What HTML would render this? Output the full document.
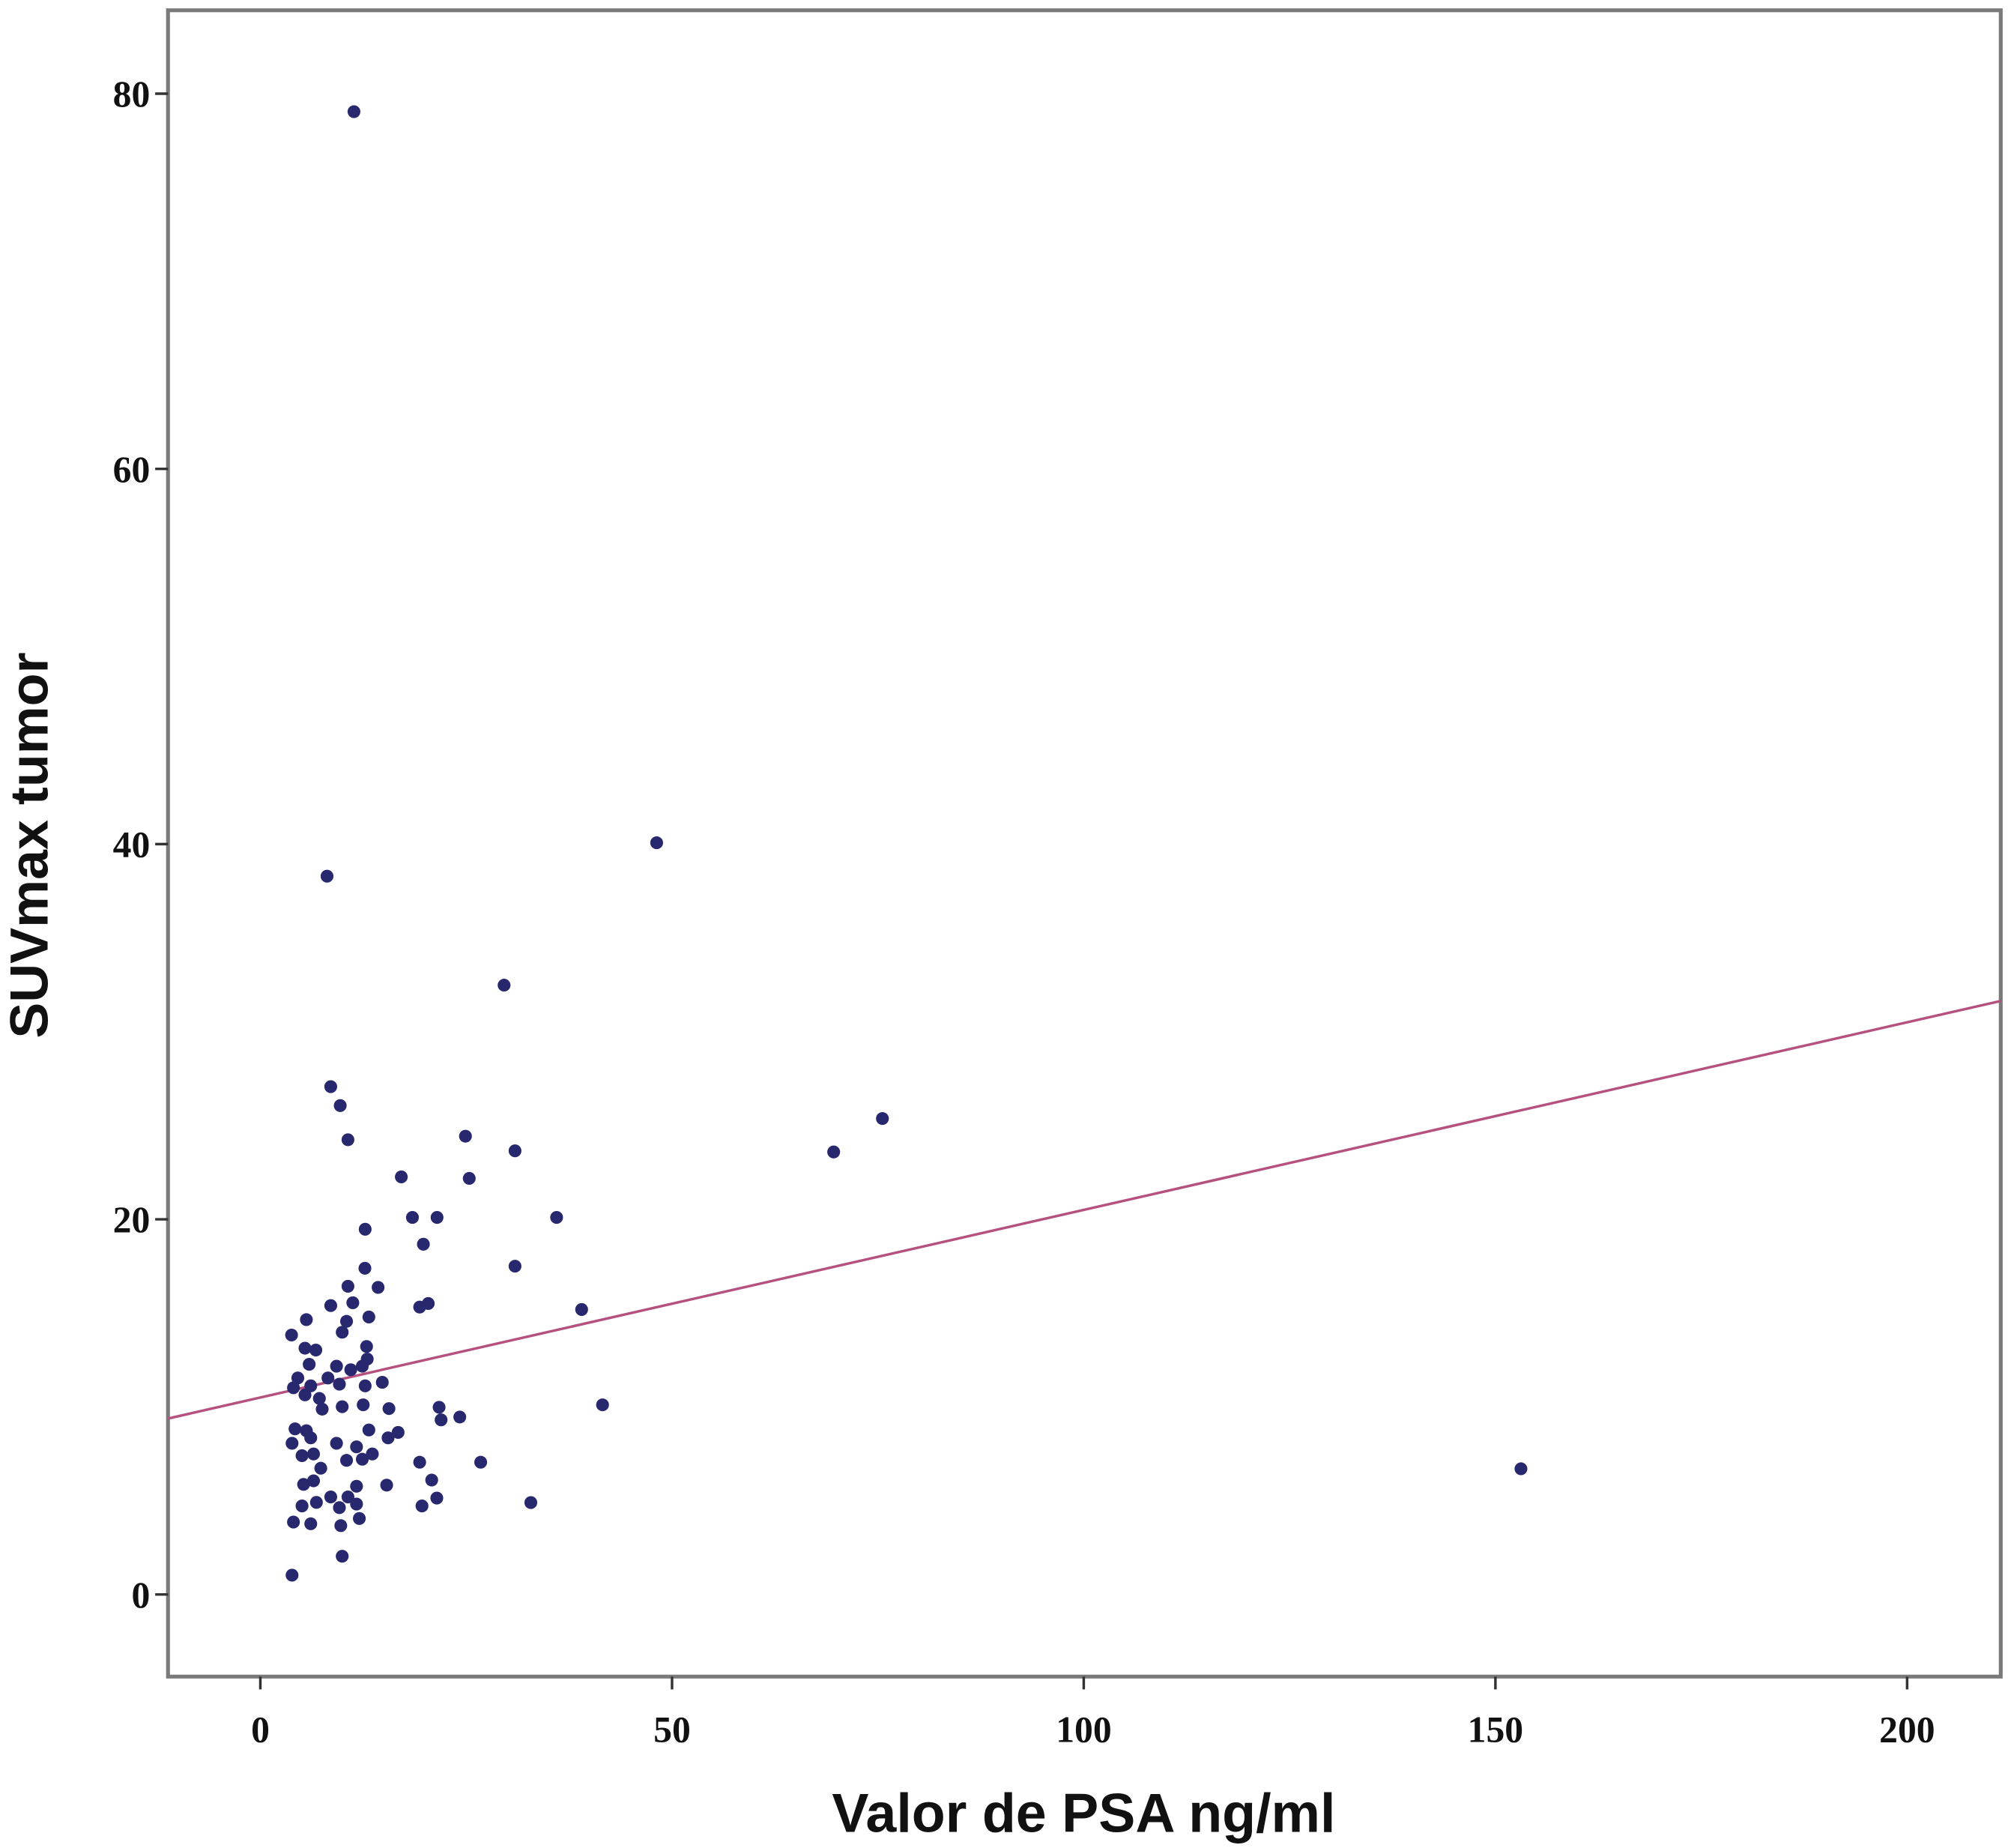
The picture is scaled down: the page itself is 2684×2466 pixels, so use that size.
<!DOCTYPE html>
<html><head><meta charset="utf-8"><style>html,body{margin:0;padding:0;background:#fff}svg{display:block}</style></head>
<body>
<svg id="chart" width="2684" height="2466" viewBox="0 0 1568 1440.6" xmlns="http://www.w3.org/2000/svg">
<rect x="0" y="0" width="1568" height="1440.6" fill="#fff"/>
<g id="marks"></g>
</svg>
<script>
const xTicks = [0, 50, 100, 150, 200];
const yTicks = [0, 20, 40, 60, 80];
const psaValues = [8.55,9.70,10.64,24.91,30.93,17.12,25.37,18.47,21.46,35.98,12.73,19.80,12.70,30.93,10.64,14.30,8.55,11.23,19.35,20.39,39.02,5.59,13.18,10.47,9.94,3.79,5.42,6.74,12.90,12.98,5.93,9.25,10.98,12.38,4.55,6.12,8.21,9.60,4.02,5.42,7.17,12.73,14.81,7.51,9.94,12.49,15.62,21.71,21.95,24.22,41.56,4.21,5.59,3.85,6.12,13.18,15.51,16.73,9.25,11.68,5.06,6.46,10.47,12.38,13.60,19.35,26.76,7.34,5.25,6.46,15.34,20.81,11.68,10.64,8.55,5.06,6.81,9.60,11.68,21.43,19.63,32.85,4.02,6.12,9.77,12.02,9.94,3.85,11.37,8.10,48.13,29.60,69.63,75.55,153.1];
const suvValues = [27.07,26.06,24.24,24.43,23.65,22.26,22.18,20.10,20.10,20.10,19.47,18.67,17.39,17.50,16.43,16.37,15.40,15.55,15.32,15.51,15.19,14.65,14.79,14.56,13.98,13.83,13.13,13.03,13.22,12.55,12.27,12.17,11.98,12.17,11.54,11.12,11.54,11.21,11.02,10.64,10.45,11.12,11.31,9.88,10.01,10.11,9.91,9.98,9.31,9.46,10.11,8.83,8.73,8.06,8.35,8.77,8.35,8.64,8.06,7.87,7.40,7.49,7.15,7.21,7.49,7.05,7.05,6.73,5.87,6.06,5.83,6.10,5.77,5.20,5.20,4.72,4.91,4.63,4.82,5.14,4.72,4.90,3.86,3.77,3.67,4.05,2.04,1.03,79.04,38.29,40.07,32.48,23.59,25.37,6.70];
const fitIntercept = [10.5];
const fitSlope = [0.1];

const NS = 'http://www.w3.org/2000/svg';
const g = document.getElementById('marks');
const L = 131, R = 1560, T = 8, B = 1307;
const xMin = (L - 203) / 6.42, xMax = (R - 203) / 6.42;
function sx(v){ return 203 + v * 6.42; }
function sy(v){ return 1243 - v * 14.625; }
function el(tag, attrs){ const e = document.createElementNS(NS, tag); for (const k in attrs) e.setAttribute(k, attrs[k]); g.appendChild(e); return e; }

const frame = el('rect', {x:L, y:T, width:R-L, height:B-T, fill:'none', stroke:'#7a7a7a', 'stroke-width':3});



yTicks.forEach(v => {
  const t = el('line', {x1:L-10, x2:L, y1:sy(v), y2:sy(v), stroke:'#333', 'stroke-width':2});
  
  
  const lb = el('text', {x:L-14, y:sy(v)+10, 'text-anchor':'end', 'font-family':'Liberation Serif, serif', 'font-weight':'bold', 'font-size':29, fill:'#111'});
  lb.textContent = v;
  
  
});
xTicks.forEach(v => {
  const t = el('line', {x1:sx(v), x2:sx(v), y1:B, y2:B+10, stroke:'#333', 'stroke-width':2});
  
  
  const lb = el('text', {x:sx(v), y:B+51, 'text-anchor':'middle', 'font-family':'Liberation Serif, serif', 'font-weight':'bold', 'font-size':29, fill:'#111'});
  lb.textContent = v;
  
  
});

const fl = el('line', {x1:L, y1:sy(fitIntercept[0] + fitSlope[0]*xMin), x2:R, y2:sy(fitIntercept[0] + fitSlope[0]*xMax), stroke:'#b5507f', 'stroke-width':2});



psaValues.forEach((xv, i) => {
  const c = el('circle', {cx:sx(xv), cy:sy(suvValues[i]), r:5, fill:'#28286e'});
  
  
});

const xt = el('text', {x:845, y:1428, 'text-anchor':'middle', 'font-family':'Liberation Sans, sans-serif', 'font-weight':'bold', 'font-size':43, fill:'#111'});
xt.textContent = 'Valor de PSA ng/ml';


const yt = el('text', {x:0, y:0, 'text-anchor':'middle', 'font-family':'Liberation Sans, sans-serif', 'font-weight':'bold', 'font-size':42, fill:'#111', transform:'translate(37,659) rotate(-90)'});
yt.textContent = 'SUVmax tumor';


</script>
</body></html>
